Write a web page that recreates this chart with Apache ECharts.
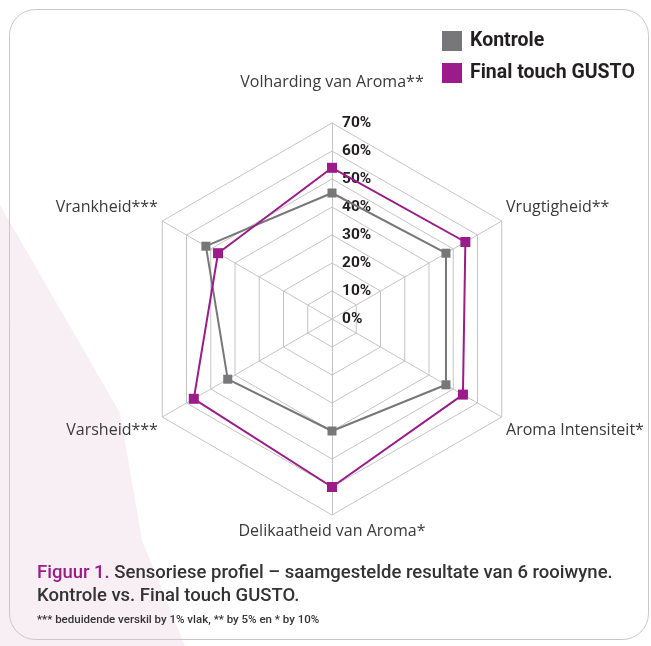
<!DOCTYPE html>
<html>
<head>
<meta charset="utf-8">
<script src="https://cdn.jsdelivr.net/npm/echarts@6/dist/echarts.min.js"></script>
<style>
  html, body { margin: 0; padding: 0; background: #fff; }
  #chart { width: 651px; height: 646px; }
</style>
</head>
<body>
<div id="chart"></div>
<script>
// indicators in the order echarts lays them out (counter-clockwise from the top)
var indicatorNames = ['Volharding van Aroma**', 'Vrankheid***', 'Varsheid***', 'Delikaatheid van Aroma*', 'Aroma Intensiteit*', 'Vrugtigheid**']
var seriesNames = ['Kontrole', 'Final touch GUSTO']
var kontroleValues = [45, 52, 43, 40, 47, 47]
var gustoValues = [54, 47, 57, 60, 54, 55]
var axisMax = 70
var axisSplits = 7

var captionHead = 'Figuur 1.'
var captionLine1 = 'Sensoriese profiel – saamgestelde resultate van 6 rooiwyne.'
var captionLine2 = 'Kontrole vs. Final touch GUSTO.'
var footnote = '*** beduidende verskil by 1% vlak, ** by 5% en * by 10%'

var grey = '#77777a'
var purple = '#9b1b8b'

var chartDom = document.getElementById('chart')
var myChart = echarts.init(chartDom)

var indicator = []
for (var i = 0; i < indicatorNames.length; i++) {
  var ind = { name: indicatorNames[i], min: 0, max: axisMax }
  if (i === 0) {
    // only the top axis carries the percentage labels, on its right side
    ind.axisLabel = {
      show: true,
      formatter: '{value}%',
      color: '#231f20',
      fontFamily: 'Roboto',
      fontWeight: 'bold',
      fontSize: 15.5,
      margin: -10,
      align: 'left'
    }
  }
  indicator.push(ind)
}

// nudge names: upper ones a bit up, lower ones a bit down
function nameFormatter (name) {
  var idx = indicatorNames.indexOf(name)
  if (idx === 0 || idx === 1 || idx === 5) return name + '\n '
  if (idx === 2 || idx === 4) return ' \n' + name
  return name
}

var option = {
  animation: false,
  color: [grey, purple],
  legend: {
    data: seriesNames,
    orient: 'vertical',
    left: 437,
    top: 26,
    itemWidth: 20,
    itemHeight: 20,
    itemGap: 12,
    icon: 'rect',
    textStyle: {
      color: '#231f20',
      fontFamily: 'Roboto',
      fontWeight: 'bold',
      fontSize: 19.5,
      padding: [0, 0, 0, 3]
    }
  },
  radar: {
    center: [332, 319],
    radius: 196,
    startAngle: 90,
    splitNumber: axisSplits,
    shape: 'polygon',
    nameGap: 5,
    axisName: {
      color: '#3a3a3a',
      fontFamily: 'Open Sans',
      fontSize: 16,
      lineHeight: 22,
      formatter: nameFormatter
    },
    axisLine: { lineStyle: { color: '#c4c4c4', width: 1 } },
    splitLine: { lineStyle: { color: '#c4c4c4', width: 1 } },
    splitArea: { show: false },
    axisTick: { show: false },
    axisLabel: { show: false },
    indicator: indicator
  },
  series: [{
    type: 'radar',
    symbol: 'rect',
    data: [
      {
        name: seriesNames[0],
        value: kontroleValues,
        symbolSize: 9,
        lineStyle: { color: grey, width: 2 },
        itemStyle: { color: grey }
      },
      {
        name: seriesNames[1],
        value: gustoValues,
        symbolSize: 10,
        lineStyle: { color: purple, width: 2 },
        itemStyle: { color: purple }
      }
    ]
  }],
  graphic: [
    {
      type: 'polygon',
      z: -10,
      shape: { points: [[0, 205], [120, 413], [142, 540], [185, 646], [0, 646]] },
      style: { fill: '#f8eff5' },
      silent: true
    },
    {
      type: 'rect',
      z: -5,
      shape: { x: 9.5, y: 9.5, width: 639, height: 630, r: 26 },
      style: { fill: 'none', stroke: '#c8c8c8', lineWidth: 1 },
      silent: true
    },
    {
      type: 'text',
      left: 37,
      top: 564,
      style: {
        text: '{p|' + captionHead + '} ' + captionLine1,
        fill: '#333333',
        font: '500 18.5px Roboto',
        rich: {
          p: { fill: purple, font: '500 18.5px Roboto' }
        }
      }
    },
    {
      type: 'text',
      left: 37,
      top: 587,
      style: {
        text: captionLine2,
        fill: '#333333',
        font: '500 18.5px Roboto'
      }
    },
    {
      type: 'text',
      left: 37,
      top: 614,
      style: {
        text: footnote,
        fill: '#333333',
        font: '500 11.5px Roboto'
      }
    }
  ]
}

option && myChart.setOption(option)
</script>
</body>
</html>
